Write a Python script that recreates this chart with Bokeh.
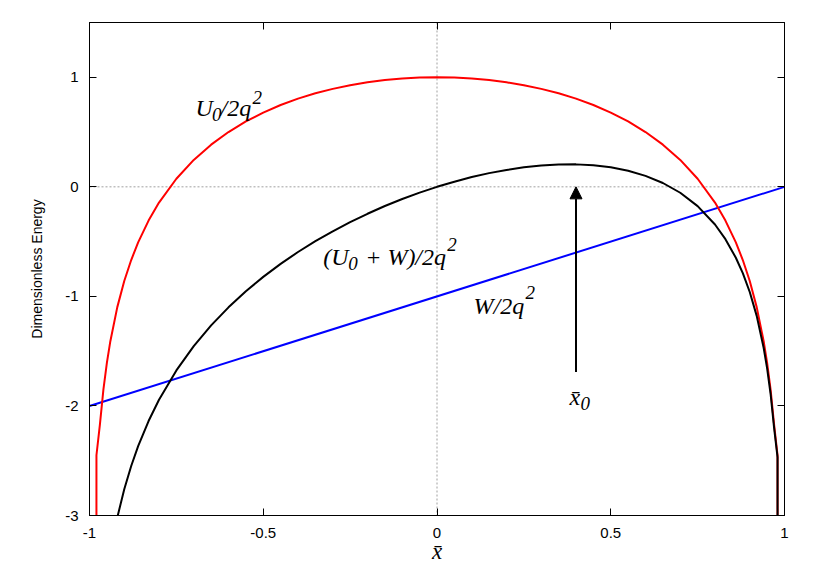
from bokeh.plotting import figure
from bokeh.models import (Range1d, LinearAxis, FixedTicker, Span, Label, Arrow,
                          NormalHead, CustomJSTickFormatter)
from bokeh.embed import file_html
from bokeh.resources import INLINE

# ---- data ----
x_vals = [-0.9801, -0.98, -0.97, -0.96, -0.95, -0.94, -0.92, -0.90, -0.88, -0.86, -0.83,
          -0.80, -0.75, -0.70, -0.65, -0.60, -0.55, -0.50, -0.45, -0.40, -0.35, -0.30,
          -0.25, -0.20, -0.15, -0.10, -0.05, 0.0, 0.05, 0.10, 0.15, 0.20, 0.25, 0.30,
          0.35, 0.40, 0.45, 0.50, 0.55, 0.60, 0.65, 0.70, 0.75, 0.80, 0.83, 0.86, 0.88,
          0.90, 0.92, 0.94, 0.95, 0.96, 0.97, 0.98, 0.9801]
u0_vals = [-4.0, -2.45, -2.168, -1.851, -1.607, -1.409, -1.098, -0.860, -0.668, -0.507,
           -0.308, -0.144, 0.074, 0.246, 0.385, 0.500, 0.597, 0.678, 0.747, 0.805, 0.854,
           0.894, 0.928, 0.954, 0.975, 0.989, 0.997, 1.0, 0.997, 0.989, 0.975, 0.954,
           0.928, 0.894, 0.854, 0.805, 0.747, 0.678, 0.597, 0.500, 0.385, 0.246, 0.074,
           -0.144, -0.308, -0.507, -0.668, -0.860, -1.098, -1.409, -1.607, -1.851,
           -2.168, -2.45, -4.0]
total_vals = [-6.0, -4.43, -4.138, -3.811, -3.557, -3.349, -3.018, -2.760, -2.548, -2.367,
              -2.138, -1.944, -1.676, -1.454, -1.265, -1.100, -0.953, -0.822, -0.703,
              -0.595, -0.496, -0.406, -0.322, -0.246, -0.175, -0.111, -0.053, 0.0, 0.047,
              0.089, 0.125, 0.154, 0.178, 0.194, 0.204, 0.205, 0.197, 0.178, 0.147, 0.100,
              0.035, -0.054, -0.176, -0.344, -0.478, -0.647, -0.788, -0.960, -1.178,
              -1.469, -1.657, -1.891, -2.198, -2.47, -4.0]
w_x = [-1.0, 1.0]
w_vals = [-2.0, 0.0]
x0_val = 0.40
arrow_bottom = -1.69

x_ticks = [-1, -0.5, 0, 0.5, 1]
x_tick_labels = ["-1", "-0.5", "0", "0.5", "1"]
y_ticks = [-3, -2, -1, 0, 1]
y_tick_labels = ["-3", "-2", "-1", "0", "1"]


def label_formatter(ticks, labels):
    return CustomJSTickFormatter(args=dict(tv=ticks, tl=labels), code="""
        for (let i = 0; i < tv.length; i++) {
            if (Math.abs(tv[i] - tick) < 1e-9) { return tl[i]; }
        }
        return '';
    """)


def blank_formatter():
    return CustomJSTickFormatter(code="return '';")


p = figure(width=817, height=572, output_backend="svg", toolbar_location=None,
           x_range=Range1d(-1, 1), y_range=Range1d(-3, 1.5),
           min_border_left=89, min_border_right=33, min_border_top=22,
           min_border_bottom=57)
p.xgrid.visible = False
p.ygrid.visible = False
p.outline_line_color = "black"
p.outline_line_width = 1
p.background_fill_color = "white"
p.border_fill_color = "white"


def style_axis(ax, ticks, fmt):
    ax.ticker = FixedTicker(ticks=ticks)
    ax.formatter = fmt
    ax.major_tick_in = 7
    ax.major_tick_out = 0
    ax.minor_tick_in = 0
    ax.minor_tick_out = 0
    ax.axis_line_color = "black"
    ax.axis_line_width = 1
    ax.major_tick_line_color = "black"
    ax.major_tick_line_width = 1
    ax.major_label_text_font = "Liberation Sans"
    ax.major_label_text_font_size = "15px"
    ax.major_label_text_color = "black"


xa = p.xaxis[0]
style_axis(xa, x_ticks, label_formatter(x_ticks, x_tick_labels))
xa.major_label_standoff = 12
xa.axis_label = "x\u0304"
xa.axis_label_text_font = "Liberation Serif"
xa.axis_label_text_font_style = "italic"
xa.axis_label_text_font_size = "23px"
xa.axis_label_text_color = "black"
xa.axis_label_standoff = -2

ya = p.yaxis[0]
style_axis(ya, y_ticks, label_formatter(y_ticks, y_tick_labels))
ya.major_label_standoff = 11
ya.axis_label = "Dimensionless Energy"
ya.axis_label_text_font = "Liberation Sans"
ya.axis_label_text_font_style = "normal"
ya.axis_label_text_font_size = "14px"
ya.axis_label_text_color = "black"
ya.axis_label_standoff = 17

top_ax = LinearAxis()
style_axis(top_ax, x_ticks, blank_formatter())
top_ax.major_label_standoff = 0
top_ax.major_label_text_font_size = "1px"
p.add_layout(top_ax, "above")

right_ax = LinearAxis()
style_axis(right_ax, y_ticks, blank_formatter())
right_ax.major_label_standoff = 0
right_ax.major_label_text_font_size = "1px"
p.add_layout(right_ax, "right")

# zero axes (dotted)
for dim in ("width", "height"):
    p.add_layout(Span(location=0, dimension=dim, line_color="#a0a0a0",
                      line_dash="2 2", line_width=1, level="underlay"))

# curves
p.line(w_x, w_vals, line_color="#0000ff", line_width=2)
p.line(x_vals, u0_vals, line_color="#ff0000", line_width=2)
p.line(x_vals, total_vals, line_color="#000000", line_width=2)

# arrow at x0
p.add_layout(Arrow(end=NormalHead(size=12, fill_color="black", line_color="black"),
                   x_start=x0_val, y_start=arrow_bottom, x_end=x0_val, y_end=0,
                   line_color="black", line_width=2))


def rich(x, y, parts):
    for txt, dx, dy, size in parts:
        p.add_layout(Label(x=x, y=y, x_offset=dx, y_offset=dy, text=txt,
                           text_font="Liberation Serif", text_font_style="italic",
                           text_font_size=f"{size}px", text_color="black",
                           text_baseline="alphabetic", text_align="left"))


rich(-0.695, 0.723, [("U", 0, 0, 24), ("0", 16.5, -6.5, 19), ("/2q", 25, 0, 24),
                     ("2", 57, 10, 19)])
rich(-0.3275, -0.645, [("(U", 0, 0, 24), ("0", 25, -6.5, 19), ("+ W)/2q", 42, 0, 24),
                       ("2", 124, 13, 19)])
rich(0.105, -1.085, [("W/2q", 0, 0, 24), ("2", 52, 13, 19)])
rich(0.381, -1.921, [("x\u0304", 0, 0, 24), ("0", 11, -6.5, 19)])

open("out.html", "w").write(file_html(p, INLINE))
